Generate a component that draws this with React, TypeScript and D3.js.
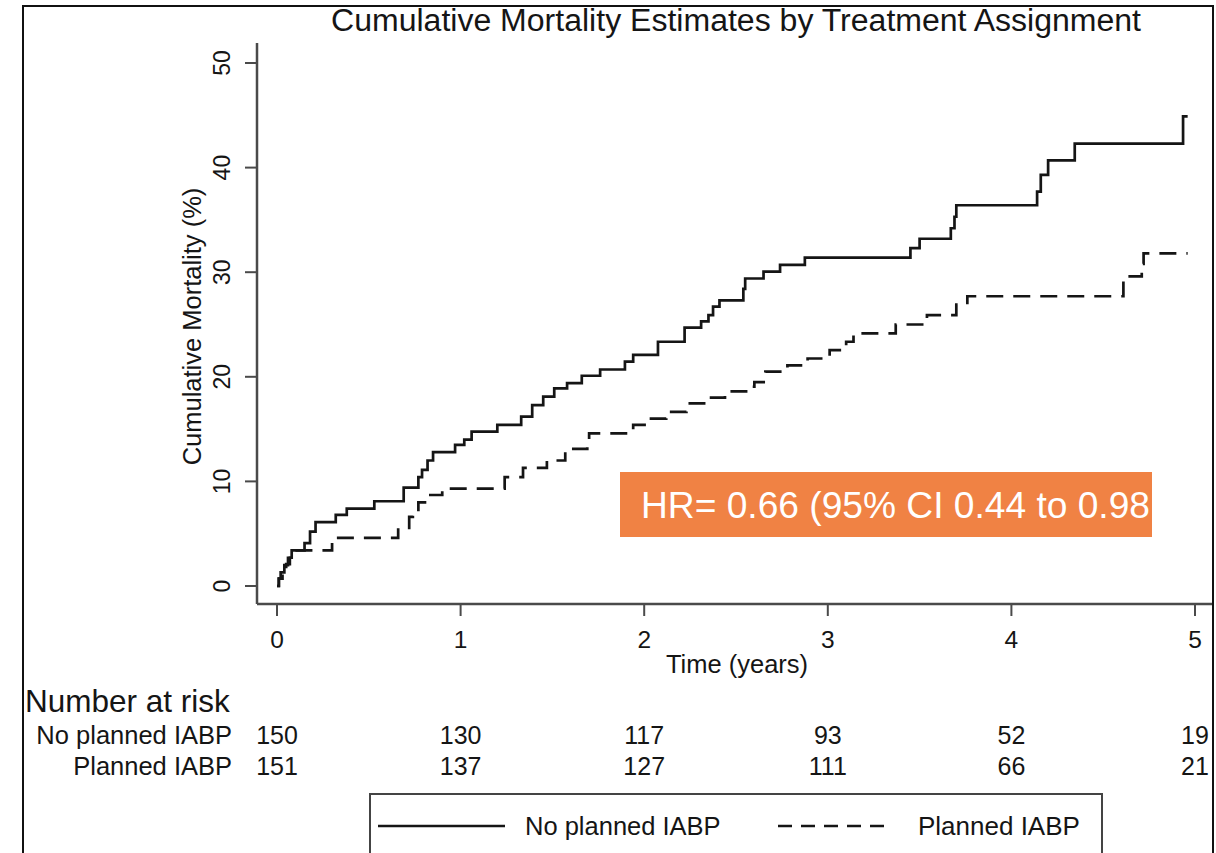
import { useEffect, useRef } from "react";
import * as d3 from "d3";

// event times (years) and cumulative mortality (%) after each event
const noPlannedTimes = [
  0, 0.01, 0.02, 0.04, 0.06, 0.08, 0.15, 0.18, 0.21, 0.32, 0.38, 0.53, 0.69,
  0.77, 0.79, 0.82, 0.85, 0.97, 1.02, 1.06, 1.2, 1.33, 1.39, 1.45, 1.51, 1.58,
  1.66, 1.76, 1.895, 1.94, 2.075, 2.22, 2.31, 2.35, 2.375, 2.41, 2.54, 2.55,
  2.65, 2.74, 2.875, 3.45, 3.5, 3.67, 3.69, 3.7, 4.14, 4.16, 4.2, 4.345, 4.935,
  4.96,
];
const noPlannedValues = [
  0, 0.7, 1.3, 2.0, 2.7, 3.4, 4.1, 5.2, 6.1, 6.8, 7.4, 8.1, 9.4, 10.4, 11.1,
  12.0, 12.8, 13.5, 14.0, 14.75, 15.4, 16.2, 17.3, 18.1, 18.9, 19.4, 20.1, 20.7,
  21.45, 22.1, 23.35, 24.7, 25.3, 25.9, 26.7, 27.3, 28.4, 29.4, 30.05, 30.7,
  31.4, 32.3, 33.2, 34.2, 35.3, 36.4, 37.7, 39.3, 40.7, 42.3, 44.9, 44.9,
];

const plannedTimes = [
  0, 0.01, 0.03, 0.05, 0.07, 0.1, 0.3, 0.66, 0.72, 0.74, 0.77, 0.815, 0.9, 1.24,
  1.34, 1.47, 1.57, 1.69, 1.7, 1.94, 2.01, 2.12, 2.23, 2.34, 2.44, 2.58, 2.6,
  2.66, 2.78, 2.89, 3.01, 3.1, 3.14, 3.37, 3.54, 3.7, 3.76, 4.61, 4.71, 4.72,
  4.96,
];
const plannedValues = [
  0, 0.7, 1.4, 2.1, 2.7, 3.4, 4.6, 5.4, 6.6, 7.1, 8.0, 8.7, 9.3, 10.4, 11.3,
  12.0, 13.1, 14.0, 14.6, 15.4, 16.0, 16.65, 17.45, 18.0, 18.6, 19.05, 19.5,
  20.5, 21.1, 21.75, 22.55, 23.35, 24.15, 25.0, 25.9, 26.9, 27.7, 29.6, 30.8,
  31.8, 31.8,
];

const xTicks = [0, 1, 2, 3, 4, 5];
const yTicks = [0, 10, 20, 30, 40, 50];
const riskNoPlanned = [150, 130, 117, 93, 52, 19];
const riskPlanned = [151, 137, 127, 111, 66, 21];
const groupLabels = ["No planned IABP", "Planned IABP"];

const FONT = "'Liberation Sans', Arial, Helvetica, sans-serif";
const INK = "#151515";

const MortalityChart = () => {
  const svgRef = useRef(null);

  useEffect(() => {
    if (!svgRef.current) return;
    const svg = d3.select(svgRef.current);
    svg.selectAll("*").remove();

    const x = d3.scaleLinear().domain([0, 5]).range([277, 1195]);
    const y = d3.scaleLinear().domain([0, 50]).range([586, 63]);
    const axisColor = "#4a4a4a";
    const axisY = 604;
    const axisX = 257;

    // outer frame
    svg
      .append("rect")
      .attr("x", 23)
      .attr("y", 6)
      .attr("width", 1190)
      .attr("height", 900)
      .attr("fill", "none")
      .attr("stroke", "#111")
      .attr("stroke-width", 2);

    // title
    svg
      .append("text")
      .attr("x", 736)
      .attr("y", 31)
      .attr("text-anchor", "middle")
      .attr("font-family", FONT)
      .attr("font-size", 31)
      .attr("textLength", 810)
      .attr("lengthAdjust", "spacingAndGlyphs")
      .attr("fill", INK)
      .text("Cumulative Mortality Estimates by Treatment Assignment");

    // y axis
    svg
      .append("line")
      .attr("x1", axisX)
      .attr("x2", axisX)
      .attr("y1", 43)
      .attr("y2", axisY)
      .attr("stroke", axisColor)
      .attr("stroke-width", 2.5);
    yTicks.forEach((t) => {
      svg
        .append("line")
        .attr("x1", axisX - 12)
        .attr("x2", axisX)
        .attr("y1", y(t))
        .attr("y2", y(t))
        .attr("stroke", axisColor)
        .attr("stroke-width", 2);
      svg
        .append("text")
        .attr("transform", `translate(230,${y(t)}) rotate(-90)`)
        .attr("text-anchor", "middle")
        .attr("font-family", FONT)
        .attr("font-size", 23)
        .attr("fill", INK)
        .text(String(t));
    });
    svg
      .append("text")
      .attr("transform", `translate(201,${(y(0) + y(50)) / 2 + 2}) rotate(-90)`)
      .attr("text-anchor", "middle")
      .attr("font-family", FONT)
      .attr("font-size", 25.5)
      .attr("fill", INK)
      .text("Cumulative Mortality (%)");

    // x axis
    svg
      .append("line")
      .attr("x1", axisX)
      .attr("x2", 1212)
      .attr("y1", axisY)
      .attr("y2", axisY)
      .attr("stroke", axisColor)
      .attr("stroke-width", 2.5);
    xTicks.forEach((t) => {
      svg
        .append("line")
        .attr("x1", x(t))
        .attr("x2", x(t))
        .attr("y1", axisY)
        .attr("y2", axisY + 12)
        .attr("stroke", axisColor)
        .attr("stroke-width", 2);
      svg
        .append("text")
        .attr("x", x(t))
        .attr("y", 648)
        .attr("text-anchor", "middle")
        .attr("font-family", FONT)
        .attr("font-size", 24.5)
        .attr("fill", INK)
        .text(String(t));
    });
    svg
      .append("text")
      .attr("x", (x(0) + x(5)) / 2 + 1)
      .attr("y", 673)
      .attr("text-anchor", "middle")
      .attr("font-family", FONT)
      .attr("font-size", 25.5)
      .attr("fill", INK)
      .text("Time (years)");

    // curves
    const line = d3
      .line<[number, number]>()
      .x((d) => x(d[0]))
      .y((d) => y(d[1]))
      .curve(d3.curveStepAfter);

    const noPlanned = noPlannedTimes.map((t, i) => [t, noPlannedValues[i]] as [number, number]);
    const planned = plannedTimes.map((t, i) => [t, plannedValues[i]] as [number, number]);

    svg
      .append("path")
      .datum(planned)
      .attr("fill", "none")
      .attr("stroke", INK)
      .attr("stroke-width", 2.7)
      .attr("stroke-dasharray", "17,10")
      .attr("d", line);

    svg
      .append("path")
      .datum(noPlanned)
      .attr("fill", "none")
      .attr("stroke", INK)
      .attr("stroke-width", 2.7)
      .attr("d", line);

    // HR annotation
    svg
      .append("rect")
      .attr("x", 620)
      .attr("y", 472)
      .attr("width", 532)
      .attr("height", 65)
      .attr("fill", "#F08244");
    svg
      .append("text")
      .attr("x", 641)
      .attr("y", 518)
      .attr("font-family", FONT)
      .attr("font-size", 36)
      .attr("textLength", 509)
      .attr("lengthAdjust", "spacingAndGlyphs")
      .attr("fill", "#fff")
      .text("HR= 0.66 (95% CI 0.44 to 0.98");

    // number at risk table
    svg
      .append("text")
      .attr("x", 25)
      .attr("y", 712)
      .attr("font-family", FONT)
      .attr("font-size", 31.5)
      .attr("fill", INK)
      .text("Number at risk");

    [riskNoPlanned, riskPlanned].forEach((row, r) => {
      const rowY = 744 + r * 31;
      svg
        .append("text")
        .attr("x", 232)
        .attr("y", rowY)
        .attr("text-anchor", "end")
        .attr("font-family", FONT)
        .attr("font-size", 25.5)
        .attr("fill", INK)
        .text(groupLabels[r]);
      row.forEach((n, i) => {
        svg
          .append("text")
          .attr("x", x(xTicks[i]))
          .attr("y", rowY)
          .attr("text-anchor", "middle")
          .attr("font-family", FONT)
          .attr("font-size", 25)
          .attr("fill", INK)
          .text(String(n));
      });
    });

    // legend
    svg
      .append("rect")
      .attr("x", 370)
      .attr("y", 794)
      .attr("width", 732)
      .attr("height", 100)
      .attr("fill", "#fff")
      .attr("stroke", "#444")
      .attr("stroke-width", 2);
    svg
      .append("line")
      .attr("x1", 378)
      .attr("x2", 505)
      .attr("y1", 826)
      .attr("y2", 826)
      .attr("stroke", INK)
      .attr("stroke-width", 2.7);
    svg
      .append("text")
      .attr("x", 525)
      .attr("y", 835)
      .attr("font-family", FONT)
      .attr("font-size", 25.5)
      .attr("fill", INK)
      .text(groupLabels[0]);
    svg
      .append("line")
      .attr("x1", 778)
      .attr("x2", 893)
      .attr("y1", 826)
      .attr("y2", 826)
      .attr("stroke", INK)
      .attr("stroke-width", 2.7)
      .attr("stroke-dasharray", "14,9");
    svg
      .append("text")
      .attr("x", 918)
      .attr("y", 835)
      .attr("font-family", FONT)
      .attr("font-size", 26)
      .attr("fill", INK)
      .text(groupLabels[1]);
  }, []);

  return (
    <svg
      ref={svgRef}
      width={1216}
      height={853}
      style={{ position: "fixed", left: 0, top: 0, background: "#fff" }}
    />
  );
};

export default function App() {
  return <MortalityChart />;
}
